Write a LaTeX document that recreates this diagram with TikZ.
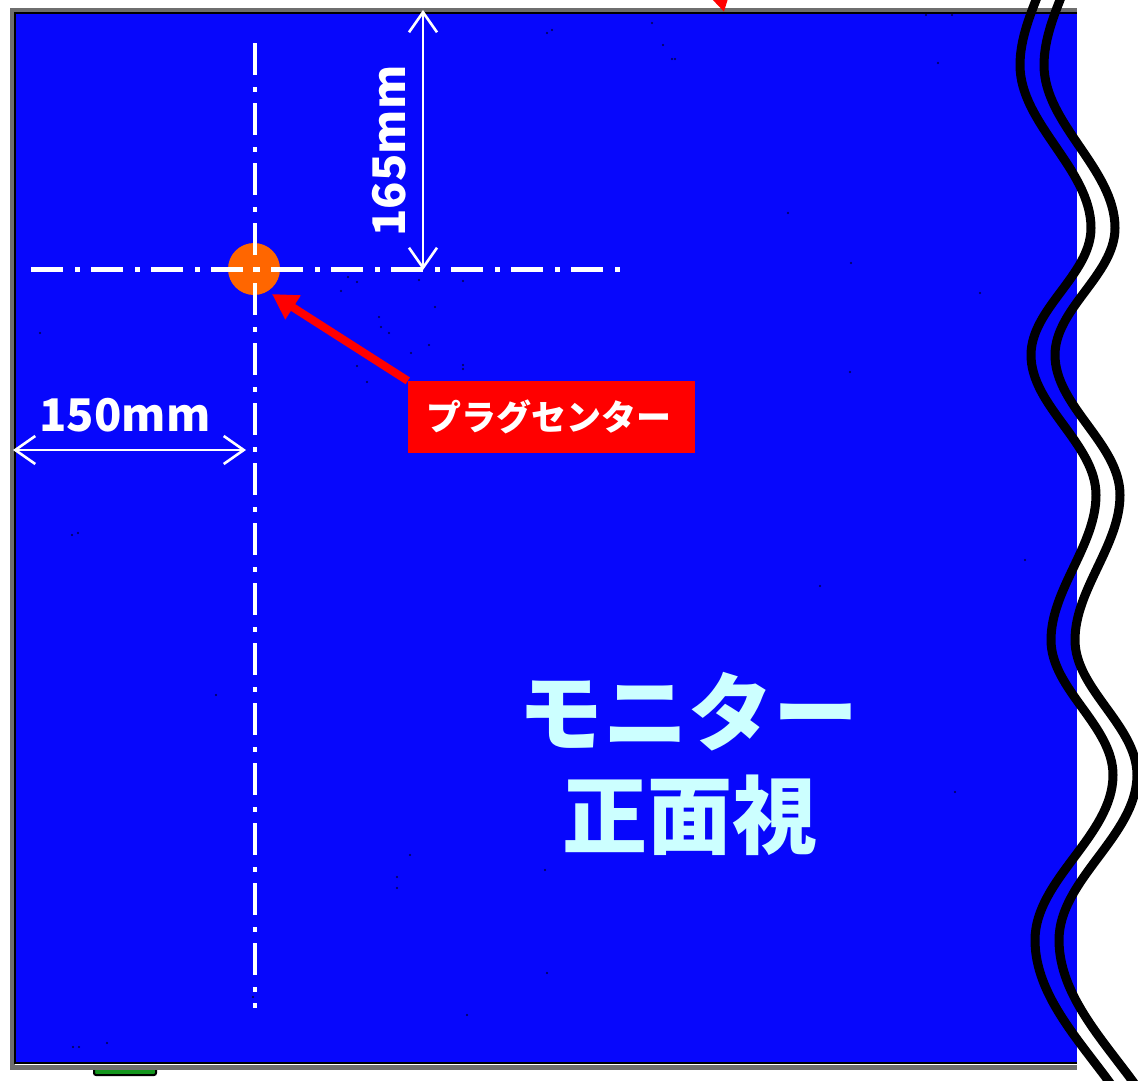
\documentclass[tikz,border=0pt]{standalone}
\usepackage{fontspec}
\usepackage{tikz}
\usetikzlibrary{arrows.meta}
\newfontfamily\jpfont{Noto Sans CJK JP}

\tikzset{
    centerline/.style={draw=white, line width=4.5, dash pattern=on 32pt off 12pt on 5pt off 11pt},
    dimline/.style={draw=white, line width=2.6, {Straight Barb[length=20pt,width=28pt]}-{Straight Barb[length=20pt,width=28pt]}},
    dimlabel/.style={text=white, font=\jpfont\bfseries\fontsize{45}{45}\selectfont, inner sep=0pt},
    bigtext/.style={text=labelcyan, font=\jpfont\bfseries\fontsize{85}{85}\selectfont, inner sep=0pt},
    wave/.style={draw=black, line width=9, looseness=0.85},
    redarrow/.style={draw=red, line width=8, -{Triangle[length=25pt,width=27pt]}}
}
\definecolor{monitorblue}{RGB}{7,7,252}
\definecolor{labelcyan}{RGB}{204,255,255}
\definecolor{plugorange}{RGB}{255,102,0}
\definecolor{framegray}{RGB}{110,110,110}
\definecolor{footgreen}{RGB}{20,150,30}

\begin{document}
\begin{tikzpicture}[x=1pt, y=-1pt]
    \useasboundingbox (0,0) rectangle (1138,1080);

    % draw the foot under the monitor
    \filldraw[fill=footgreen, draw=black, line width=2, rounded corners=2] (94,1068) rectangle (156,1075);

    % draw the monitor frame and face
    \draw[framegray, line width=5] (1077,10) -- (12,10) -- (12,1067) -- (1077,1067);
    \fill[monitorblue] (14,13) rectangle (1077,1064);
    \draw[black, line width=2.5] (1077,13) -- (15,13) -- (15,1063) -- (1077,1063);

    % draw the specks on the face
    \foreach \px/\py in {348/277, 357/282, 341/291, 419/280, 463/281, 379/317, 435/307, 381/327,
                         389/333, 429/345, 411/353, 357/366, 367/382, 463/365, 463/369, 652/23,
                         663/45, 672/59, 675/59, 926/15, 952/15, 938/63, 788/213, 851/263,
                         980/293, 547/33, 552/30, 820/586, 72/535, 78/533, 410/855, 397/877,
                         397/888, 545/870, 547/973, 467/1015, 40/333, 107/1043, 73/1047,
                         79/1047, 253/997, 955/792, 1025/560, 216/695, 850/372}
        \fill[black!70!monitorblue] (\px,\py) circle (1.2);

    % draw the plug center
    \fill[plugorange] (254,269) circle [radius=26];

    % draw the center lines
    \coordinate (hstart) at (31,269.5);
    \coordinate (hend) at (620,269.5);
    \coordinate (vstart) at (255,43);
    \coordinate (vend) at (255,1008);
    \draw[centerline] (hstart) -- (hend);
    \draw[centerline] (vstart) -- (vend);

    % draw the dimensions
    \coordinate (toptick) at (423,10);
    \coordinate (toptickend) at (423,270);
    \coordinate (lefttick) at (13,450);
    \coordinate (lefttickend) at (246,450);
    \draw[dimline] (toptick) -- (toptickend);
    \draw[dimline] (lefttick) -- (lefttickend);
    \node[dimlabel, rotate=90] (dimtop) at (389,151) {165mm};
    \node[dimlabel] (dimleft) at (125,415) {150mm};

    % draw the plug center label and its arrow
    \node[fill=red, minimum width=287pt, minimum height=72pt, inner sep=0pt] (plugbox) at (551.5,417) {};
    \node[text=white, inner sep=0pt, font=\jpfont\bfseries\fontsize{35}{35}\selectfont] (pluglabel) at (549,417) {プラグセンター};
    \coordinate (plugtip) at (272,294);
    \draw[redarrow] (plugbox.north west) -- (plugtip);

    % draw the arrow cut off at the top
    \coordinate (cutstart) at (712,-40);
    \coordinate (cuttip) at (724,12);
    \draw[redarrow] (cutstart) -- (cuttip);

    % draw the monitor label
    \node[bigtext] (monitor) at (688,712) {モニター};
    \node[bigtext] (frontview) at (690,815) {正面視};

    % draw the break lines
    \foreach \dx in {0,24} {
        \draw[wave, xshift=\dx] (1040,-10) to[out=-112, in=90] (1020,65)
            to[out=-90, in=90] (1091,228)
            to[out=-90, in=90] (1031,355)
            to[out=-90, in=90] (1096,495)
            to[out=-90, in=90] (1051,640)
            to[out=-90, in=90] (1113,775)
            to[out=-90, in=90] (1035,940)
            to[out=-90, in=125] (1115,1090);
    }
\end{tikzpicture}
\end{document}
